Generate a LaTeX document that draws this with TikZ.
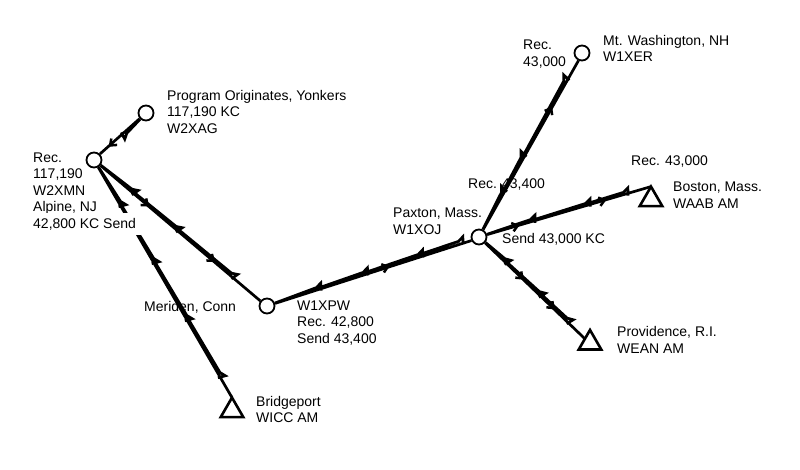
\documentclass[tikz,border=0pt]{standalone}
\usepackage{fontspec}
\setmainfont{Liberation Sans}
\usetikzlibrary{calc,shapes.geometric}
\tikzset{
  stn/.style={circle,draw,line width=1.8pt,minimum size=15pt,inner sep=0pt,fill=white},
  amst/.style={regular polygon,regular polygon sides=3,draw,line width=2.6pt,minimum size=26pt,inner sep=0pt,outer sep=0pt},
  linkst/.style={line width=2.7pt,line join=miter},
  chevst/.style={line width=2.5pt,line join=miter},
  txt/.style={font=\fontsize{14}{16.5}\selectfont,align=left,inner sep=0pt,anchor=west}
}
\newcommand\rbreaks[3]{%
  \draw[linkst] let \p1=($(#2)-(#1)$), \n1={atan2(\y1,\x1)} in (#1) \foreach \t in {#3} { -- ($(#1)!\t!(#2)+({\n1}:-3pt)+({\n1+90}:2.2pt)$) -- ($(#1)!\t!(#2)+({\n1}:2.5pt)+({\n1+90}:5.2pt)$) -- ($(#1)!\t!(#2)+({\n1}:0.5pt)+({\n1-90}:2.2pt)$) } -- (#2);%
}
\newcommand\rarrows[3]{%
  \foreach \t in {#3} { \draw[chevst] let \p1=($(#2)-(#1)$), \n1={atan2(\y1,\x1)} in ($(#1)!\t!(#2)+({\n1+142}:7pt)$) -- ($(#1)!\t!(#2)$) -- ($(#1)!\t!(#2)+({\n1+218}:7pt)$); }%
}
\begin{document}
\begin{tikzpicture}[x=1pt,y=1pt]
\useasboundingbox (0,0) rectangle (800,470);
% stations
\node[stn] (yon) at (146,357) {};
\node[stn] (alp) at (94,310) {};
\node[stn] (pxw) at (267,164) {};
\node[stn] (pax) at (479,233) {};
\node[stn] (mtw) at (582,417) {};
\node[amst] (bos) at (651,270.4) {};
\node[amst] (pro) at (590,127) {};
\node[amst] (bri) at (232,59.4) {};
% links
\rbreaks{yon}{alp}{0.44}
\rarrows{yon}{alp}{0.69}
\rbreaks{alp}{pxw}{0.225,0.48,0.80}
\rarrows{alp}{pxw}{0.31,0.69}
\rbreaks{alp}{bri.north}{0.19,0.43,0.67,0.91}
\rbreaks{pxw}{pax}{0.25,0.47,0.73,0.92}
\rarrows{pxw}{pax}{0.57}
\rbreaks{pax}{mtw}{0.25,0.44,0.855}
\rarrows{pax}{mtw}{0.70}
\rbreaks{pax}{bos.north}{0.32,0.64,0.86}
\rarrows{pax}{bos.north}{0.225,0.73}
\rbreaks{pax}{pro}{0.24,0.55,0.80}
\rarrows{pax}{pro}{0.39,0.67}
% labels
\node[txt] (tyon) at (167,358) {Program Originates, Yonkers\\117,190 KC\\W2XAG};
\node[txt] (talp) at (33,286.5) {Rec.\\117,190\\W2XMN\\Alpine, NJ};
\node[txt,fill=white,inner sep=5pt] (tsend) at (28,246) {42,800 KC Send};
\node[txt] (tpxw) at (297,147) {W1XPW\\Rec. 42,800\\Send 43,400};
\node[txt] (tpax) at (393,248.5) {Paxton, Mass.\\W1XOJ};
\node[txt] (trec434) at (468,285) {Rec. 43,400};
\node[txt] (tsend430) at (502,231) {Send 43,000 KC};
\node[txt] (trecmtw) at (523,416) {Rec.\\43,000};
\node[txt] (tmtw) at (603,421.5) {Mt. Washington, NH\\W1XER};
\node[txt] (trecbos) at (631,308) {Rec. 43,000};
\node[txt] (tbos) at (673,275) {Boston, Mass.\\WAAB AM};
\node[txt] (tpro) at (617,130) {Providence, R.I.\\WEAN AM};
\node[txt] (tmer) at (144,163) {Meriden, Conn};
\node[txt] (tbri) at (256,60.5) {Bridgeport\\WICC AM};
\end{tikzpicture}
\end{document}
